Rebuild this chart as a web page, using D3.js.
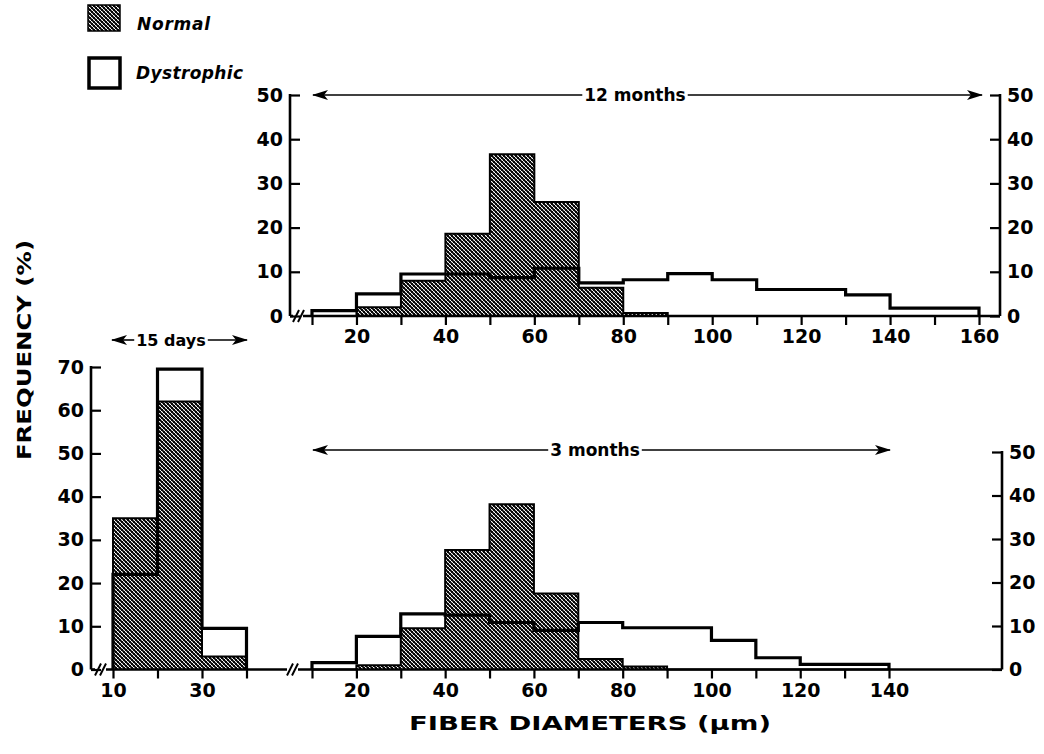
<!DOCTYPE html>
<html>
<head>
<meta charset="utf-8">
<script src="https://cdn.jsdelivr.net/npm/d3@7"></script>
<style>
  body { margin: 0; background: #fff; }
  svg { display: block; }
  text { font-family: "DejaVu Sans", sans-serif; font-weight: bold; fill: #000; }
</style>
</head>
<body>
<svg width="1044" height="754"></svg>
<script>
// bin starts (µm), every bin is 10 µm wide
const bins15d = [10, 20, 30];
const normal15d = [35, 62, 3];
const dystrophic15d = [22, 69.5, 9.5];

const bins3m = [10, 20, 30, 40, 50, 60, 70, 80, 90, 100, 110, 120, 130];
const normal3m = [0, 1, 9.5, 27.5, 38, 17.5, 2.4, 0.7, 0, 0, 0, 0, 0];
const dystrophic3m = [1.6, 7.6, 12.8, 12.5, 10.8, 9, 10.8, 9.6, 9.6, 6.7, 2.7, 1.2, 1.2];

const bins12m = [10, 20, 30, 40, 50, 60, 70, 80, 90, 100, 110, 120, 130, 140, 150];
const normal12m = [0, 2, 8, 18.6, 36.6, 25.8, 6.4, 0.7, 0, 0, 0, 0, 0, 0, 0];
const dystrophic12m = [1.2, 5, 9.5, 9.5, 8.7, 10.8, 7.5, 8.2, 9.6, 8.2, 6, 6, 4.8, 1.8, 1.8];

const binWidth = 10;

// ticks
const yTicks50 = [0, 10, 20, 30, 40, 50];
const yTicks70 = [0, 10, 20, 30, 40, 50, 60, 70];
const xTicksTop = [10, 20, 30, 40, 50, 60, 70, 80, 90, 100, 110, 120, 130, 140, 150, 160];
const xLabelsTop = [20, 40, 60, 80, 100, 120, 140, 160];
const xTicksBot = [10, 20, 30, 40, 50, 60, 70, 80, 90, 100, 110, 120, 130, 140];
const xLabelsBot = [20, 40, 60, 80, 100, 120, 140];
const xTicksLeft = [10, 20, 30, 40];
const xLabelsLeft = [10, 30];

const svg = d3.select("svg");

// hatch for "Normal"
const defs = svg.append("defs");
const pat = defs.append("pattern")
    .attr("id", "hatch")
    .attr("patternUnits", "userSpaceOnUse")
    .attr("width", 4).attr("height", 4);
pat.append("rect").attr("width", 4).attr("height", 4).attr("fill", "#fff");
pat.append("path").attr("d", "M-1,-1 L5,5 M-1,3 L1,5 M3,-1 L5,1")
    .attr("stroke", "#000").attr("stroke-width", 1.6);
pat.append("path").attr("d", "M-1,5 L5,-1 M-1,1 L1,-1 M3,5 L5,3")
    .attr("stroke", "#000").attr("stroke-width", 0.9);

defs.append("marker")
    .attr("id", "head")
    .attr("markerUnits", "userSpaceOnUse")
    .attr("markerWidth", 16).attr("markerHeight", 10)
    .attr("refX", 15).attr("refY", 5)
    .attr("orient", "auto")
  .append("path")
    .attr("d", "M0,0 L16,5 L0,10 L4,5 Z")
    .attr("fill", "#000");

// scales
const xTop = d3.scaleLinear().domain([10, 160]).range([312, 979]);
const yTop = d3.scaleLinear().domain([0, 50]).range([316, 95]);
const xLeft = d3.scaleLinear().domain([10, 40]).range([113, 246.5]);
const yLeft = d3.scaleLinear().domain([0, 70]).range([669.5, 367]);
const xBot = d3.scaleLinear().domain([10, 140]).range([312, 889]);
const yBot = d3.scaleLinear().domain([0, 50]).range([669.5, 452]);

function stepPoints(starts, values) {
    const pts = [[starts[0], 0]];
    starts.forEach((s, i) => pts.push([s, values[i]]));
    pts.push([starts[starts.length - 1] + binWidth, 0]);
    return pts;
}

function histogram(x, y, starts, normal, dystrophic) {
    const line = d3.line()
        .x(d => x(d[0]))
        .y(d => y(d[1]))
        .curve(d3.curveStepAfter);
    const g = svg.append("g");
    g.append("path")
        .attr("d", line(stepPoints(starts, normal)))
        .attr("fill", "url(#hatch)")
        .attr("stroke", "#000")
        .attr("stroke-width", 2);
    g.append("path")
        .attr("d", line(stepPoints(starts, dystrophic)))
        .attr("fill", "none")
        .attr("stroke", "#000")
        .attr("stroke-width", 3.2)
        .attr("stroke-linejoin", "miter");
}

histogram(xLeft, yLeft, bins15d, normal15d, dystrophic15d);
histogram(xBot, yBot, bins3m, normal3m, dystrophic3m);
histogram(xTop, yTop, bins12m, normal12m, dystrophic12m);

// axes
function styleAxis(g, fontSize) {
    g.select(".domain").remove();
    g.selectAll(".tick line").attr("stroke", "#000").attr("stroke-width", 2.2);
    g.selectAll("text").attr("font-size", fontSize).attr("font-family", null);
    g.attr("font-family", null).attr("font-size", null);
}

function yAxis(axis, xPos, y, ticks) {
    const g = svg.append("g")
        .attr("transform", `translate(${xPos},0)`)
        .call(axis(y).tickValues(ticks).tickSize(-10).tickPadding(7).tickFormat(d3.format("d")));
    styleAxis(g, 19);
    g.append("line")
        .attr("y1", y(0)).attr("y2", y.range()[1] - 1)
        .attr("stroke", "#000").attr("stroke-width", 2.6);
}

function xAxis(x, yPos, ticks, labels) {
    const g = svg.append("g")
        .attr("transform", `translate(0,${yPos})`)
        .call(d3.axisBottom(x).tickValues(ticks).tickSize(9).tickPadding(5)
            .tickFormat(d => labels.includes(d) ? d : ""));
    styleAxis(g, 19);
}

yAxis(d3.axisLeft, 290, yTop, yTicks50);
yAxis(d3.axisRight, 1000, yTop, yTicks50);
yAxis(d3.axisLeft, 91, yLeft, yTicks70);
yAxis(d3.axisRight, 1002, yBot, yTicks50);

xAxis(xTop, 316, xTicksTop, xLabelsTop);
xAxis(xLeft, 669.5, xTicksLeft, xLabelsLeft);
xAxis(xBot, 669.5, xTicksBot, xLabelsBot);

// baselines with breaks
function baseline(segments, yPos, breaks) {
    segments.forEach(([a, b]) => {
        svg.append("line").attr("x1", a).attr("x2", b)
            .attr("y1", yPos).attr("y2", yPos)
            .attr("stroke", "#000").attr("stroke-width", 2.6);
    });
    breaks.forEach(bx => {
        [0, 5].forEach(off => {
            svg.append("line")
                .attr("x1", bx + off - 3).attr("y1", yPos + 6)
                .attr("x2", bx + off + 3).attr("y2", yPos - 6)
                .attr("stroke", "#000").attr("stroke-width", 2);
        });
    });
}
baseline([[290, 293], [303, 1000]], 316, [296]);
baseline([[91, 95], [106, 287], [298, 1002]], 669.5, [98, 290]);

// range arrows
function rangeArrow(x1, x2, yPos, cx, label, size) {
    const t = svg.append("text")
        .attr("x", cx).attr("y", yPos + size * 0.36)
        .attr("text-anchor", "middle")
        .attr("font-size", size)
        .text(label);
    const w = t.node().getComputedTextLength();
    svg.append("line")
        .attr("x1", cx - w / 2 - 2).attr("x2", x1)
        .attr("y1", yPos).attr("y2", yPos)
        .attr("stroke", "#000").attr("stroke-width", 1.6)
        .attr("marker-end", "url(#head)");
    svg.append("line")
        .attr("x1", cx + w / 2 + 2).attr("x2", x2)
        .attr("y1", yPos).attr("y2", yPos)
        .attr("stroke", "#000").attr("stroke-width", 1.6)
        .attr("marker-end", "url(#head)");
}
rangeArrow(313, 982, 95, 635, "12 months", 17);
rangeArrow(313, 890, 450, 595, "3 months", 17);
rangeArrow(112, 247, 340, 171, "15 days", 16);

// legend
svg.append("rect").attr("x", 88).attr("y", 5).attr("width", 32).attr("height", 26)
    .attr("fill", "url(#hatch)").attr("stroke", "#000").attr("stroke-width", 1.5);
svg.append("rect").attr("x", 89).attr("y", 58).attr("width", 31).attr("height", 30)
    .attr("fill", "#fff").attr("stroke", "#000").attr("stroke-width", 3.5);
svg.append("text").attr("x", 137).attr("y", 30).attr("font-size", 17)
    .attr("font-style", "italic").attr("textLength", 73).text("Normal");
svg.append("text").attr("x", 136).attr("y", 79).attr("font-size", 17)
    .attr("font-style", "italic").attr("textLength", 107).text("Dystrophic");

// axis titles
svg.append("text")
    .attr("transform", "translate(31,350) rotate(-90)")
    .attr("text-anchor", "middle")
    .attr("font-size", 20)
    .attr("textLength", 220).attr("lengthAdjust", "spacingAndGlyphs")
    .text("FREQUENCY (%)");
svg.append("text")
    .attr("x", 590).attr("y", 730)
    .attr("text-anchor", "middle")
    .attr("font-size", 20)
    .attr("textLength", 362).attr("lengthAdjust", "spacingAndGlyphs")
    .text("FIBER DIAMETERS (µm)");
</script>
</body>
</html>
